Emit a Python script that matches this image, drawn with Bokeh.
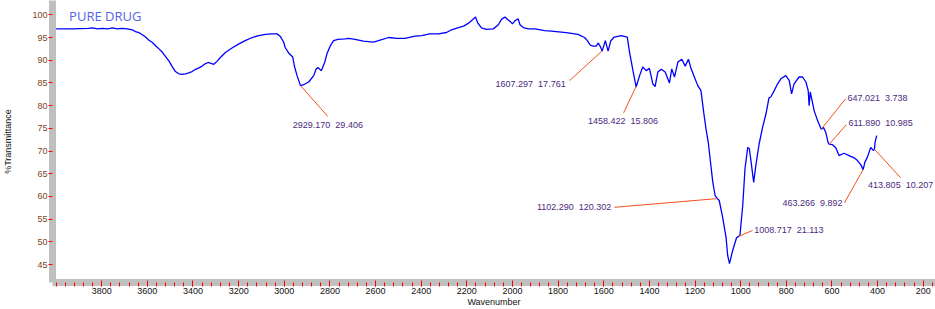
import numpy as np
from bokeh.plotting import figure
from bokeh.models import Range1d, FixedTicker, ColumnDataSource, Label
from bokeh.embed import file_html
from bokeh.resources import INLINE
from bokeh.core.properties import value, field

# ---------------- data ----------------
wavenumber = [4000, 3928, 3858, 3841, 3819, 3797, 3775, 3753, 3732, 3710,
              3688, 3666, 3652, 3637, 3622, 3608, 3593, 3578, 3564, 3549,
              3535, 3520, 3505, 3491, 3477, 3462, 3447, 3433, 3418, 3404,
              3389, 3374, 3360, 3347, 3334, 3321, 3309, 3294, 3280, 3258,
              3229, 3199, 3171, 3141, 3112, 3083, 3054, 3032, 3017, 3003,
              2996, 2981, 2963, 2955, 2944, 2929, 2915, 2893, 2871, 2861,
              2853, 2838, 2823, 2813, 2799, 2784, 2765, 2733, 2718, 2690,
              2653, 2609, 2587, 2543, 2507, 2471, 2427, 2398, 2363, 2325,
              2289, 2267, 2237, 2214, 2194, 2175, 2162, 2153, 2136, 2114,
              2084, 2062, 2048, 2033, 2020, 2009, 2000, 1989, 1975, 1967,
              1953, 1931, 1902, 1859, 1830, 1786, 1756, 1713, 1684, 1672,
              1659, 1646, 1633, 1624, 1615, 1607, 1593, 1581, 1569, 1554,
              1523, 1497, 1487, 1472, 1458, 1443, 1429, 1414, 1400, 1385,
              1375, 1363, 1348, 1331, 1312, 1302, 1290, 1275, 1258, 1243,
              1229, 1217, 1203, 1188, 1174, 1162, 1152, 1142, 1133, 1122,
              1112, 1102, 1094, 1079, 1064, 1057, 1049, 1035, 1018, 1009,
              1003, 991, 981, 969, 962, 955, 943, 933, 919, 904,
              889, 879, 876, 868, 853, 838, 824, 802, 787, 777,
              766, 744, 729, 714, 704, 700, 695, 678, 663, 647,
              637, 627, 617, 612, 598, 583, 569, 547, 525, 503,
              488, 474, 463, 456, 445, 430, 418, 414, 411, 404]

transmittance = [96.9, 96.9, 97.0, 97.1, 96.9, 97.0, 96.9, 97.1, 96.9, 97.0,
                 96.9, 96.7, 96.3, 96.1, 95.6, 95.1, 94.4, 93.9, 93.2, 92.5,
                 91.8, 90.8, 89.8, 88.6, 87.5, 87.0, 86.9, 87.0, 87.2, 87.5,
                 88.0, 88.3, 88.7, 89.2, 89.5, 89.3, 89.1, 89.8, 90.6, 91.7,
                 92.7, 93.6, 94.3, 95.0, 95.4, 95.7, 95.8, 95.8, 95.2, 94.0,
                 92.8, 91.6, 90.7, 88.6, 86.6, 84.4, 84.6, 85.2, 86.6, 88.0,
                 88.4, 87.7, 89.5, 91.4, 93.1, 94.3, 94.6, 94.7, 94.8, 94.6,
                 94.2, 94.0, 94.3, 95.0, 94.8, 94.8, 95.3, 95.4, 95.8, 95.8,
                 96.1, 96.7, 97.2, 97.5, 98.1, 98.9, 99.5, 98.3, 97.1, 96.8,
                 96.9, 97.8, 99.0, 99.5, 98.9, 98.5, 98.0, 98.7, 99.1, 97.8,
                 97.2, 96.9, 96.9, 96.5, 96.4, 96.2, 96.0, 95.7, 95.0, 94.3,
                 93.3, 93.1, 93.1, 93.8, 93.0, 92.0, 94.3, 92.0, 94.3, 95.1,
                 95.4, 95.1, 91.8, 87.7, 84.1, 86.6, 88.5, 87.7, 88.2, 84.8,
                 84.2, 87.4, 88.0, 87.4, 85.0, 88.1, 86.3, 89.6, 90.2, 88.7,
                 90.2, 88.1, 86.3, 84.4, 83.3, 78.5, 74.9, 71.9, 67.9, 63.1,
                 60.2, 59.5, 59.1, 55.4, 51.0, 47.0, 45.2, 48.1, 50.9, 51.2,
                 51.5, 58.0, 66.1, 70.8, 70.5, 67.9, 63.1, 67.0, 71.6, 75.2,
                 78.2, 80.9, 81.7, 81.9, 83.3, 84.8, 85.9, 86.6, 85.5, 82.6,
                 84.8, 86.3, 86.3, 85.2, 83.3, 80.0, 83.0, 78.9, 76.7, 74.8,
                 75.2, 74.1, 71.9, 71.5, 71.4, 70.7, 69.0, 69.5, 69.0, 68.5,
                 67.9, 67.0, 65.9, 67.5, 68.6, 70.8, 70.1, 70.3, 71.9, 73.4]

peak_wn = [2929.170, 1607.297, 1458.422, 1102.290, 1008.717, 647.021, 611.890, 463.266, 413.805]
peak_val = [29.406, 17.761, 15.806, 120.302, 21.113, 3.738, 10.985, 9.892, 10.207]

x_ticks = [200, 400, 600, 800, 1000, 1200, 1400, 1600, 1800, 2000,
           2200, 2400, 2600, 2800, 3000, 3200, 3400, 3600, 3800]
y_ticks = [45, 50, 55, 60, 65, 70, 75, 80, 85, 90, 95, 100]

# ---------------- layout of peak labels (positions) ----------------
# (line end x, line end y, text x, text y, alignment)
label_layout = [
    (2809, 77.6, 2809, 75.8, "center"),
    (1750, 85.5, 1767, 84.8, "right"),
    (1513, 78.4, 1516, 76.6, "center"),
    (1553, 57.6, 1567, 57.6, "right"),
    (948, 52.5, 941, 52.5, "left"),
    (540, 81.5, 532, 81.6, "left"),
    (537, 75.8, 528, 76.1, "left"),
    (545, 58.6, 554, 58.6, "right"),
    (299, 64.1, 299, 62.6, "center"),
]

wn_arr = np.array(wavenumber, dtype=float)
t_arr = np.array(transmittance, dtype=float)
peak_t = list(np.interp(peak_wn, wn_arr[::-1], t_arr[::-1]))
labels = ["%.3f\u00a0\u00a0%.3f" % (a, b) for a, b in zip(peak_wn, peak_val)]

ann = ColumnDataSource(dict(
    x0=peak_wn, y0=peak_t,
    x1=[l[0] for l in label_layout], y1=[l[1] for l in label_layout],
    tx=[l[2] for l in label_layout], ty=[l[3] for l in label_layout],
    align=[l[4] for l in label_layout], text=labels,
))

MINOR = [160 + 40 * i for i in range(97)]

p = figure(width=935, height=309,
           x_range=Range1d(4015.7, 146.2), y_range=Range1d(41.04, 103.15),
           output_backend="svg", toolbar_location=None,
           min_border_left=50, min_border_right=0, min_border_top=0, min_border_bottom=27)
p.outline_line_color = None
p.xgrid.visible = False
p.ygrid.visible = False
p.background_fill_color = "white"
p.border_fill_color = "white"

xa = p.xaxis[0]
xa.ticker = FixedTicker(ticks=x_ticks, minor_ticks=MINOR)
xa.axis_line_color = "#c0c0c0"
xa.axis_line_width = 7
xa.major_tick_line_color = "#ff0000"
xa.major_tick_in = 2
xa.major_tick_out = 4
xa.minor_tick_line_color = "#ff0000"
xa.minor_tick_in = 0
xa.minor_tick_out = 4
xa.major_label_text_font = "Liberation Sans"
xa.major_label_text_font_size = "9px"
xa.major_label_text_color = "#111111"
xa.major_label_standoff = 1
xa.axis_label = "Wavenumber"
xa.axis_label_text_font = "Liberation Sans"
xa.axis_label_text_font_size = "9px"
xa.axis_label_text_font_style = "normal"
xa.axis_label_text_color = "#111111"
xa.axis_label_standoff = 0

ya = p.yaxis[0]
ya.ticker = FixedTicker(ticks=y_ticks)
ya.axis_line_color = "#c0c0c0"
ya.axis_line_width = 7
ya.major_tick_line_color = "#ff0000"
ya.major_tick_in = 0
ya.major_tick_out = 4
ya.minor_tick_line_color = None
ya.major_label_text_font = "Liberation Sans"
ya.major_label_text_font_size = "9px"
ya.major_label_text_color = "#7a4520"
ya.major_label_standoff = 1
ya.axis_label = "%Transmittance"
ya.axis_label_text_font = "Liberation Sans"
ya.axis_label_text_font_size = "9px"
ya.axis_label_text_font_style = "normal"
ya.axis_label_text_color = "#111111"
ya.axis_label_standoff = 16

p.line(wavenumber, transmittance, line_color="#0000ff", line_width=1.3)

p.segment(x0="x0", y0="y0", x1="x1", y1="y1", source=ann,
          line_color="#f4511e", line_width=1)
p.text(x="tx", y="ty", text="text", source=ann,
       text_align=field("align"), text_baseline="middle",
       text_font=value("Liberation Sans"), text_font_size="9px",
       text_color="#4b2a80")

p.add_layout(Label(x=3943, y=101.7, text="PURE DRUG", text_font="Open Sans",
                   text_font_size="13px", text_color="#5566dd",
                   text_baseline="top", text_align="left"))

open("out.html", "w").write(file_html(p, INLINE))
